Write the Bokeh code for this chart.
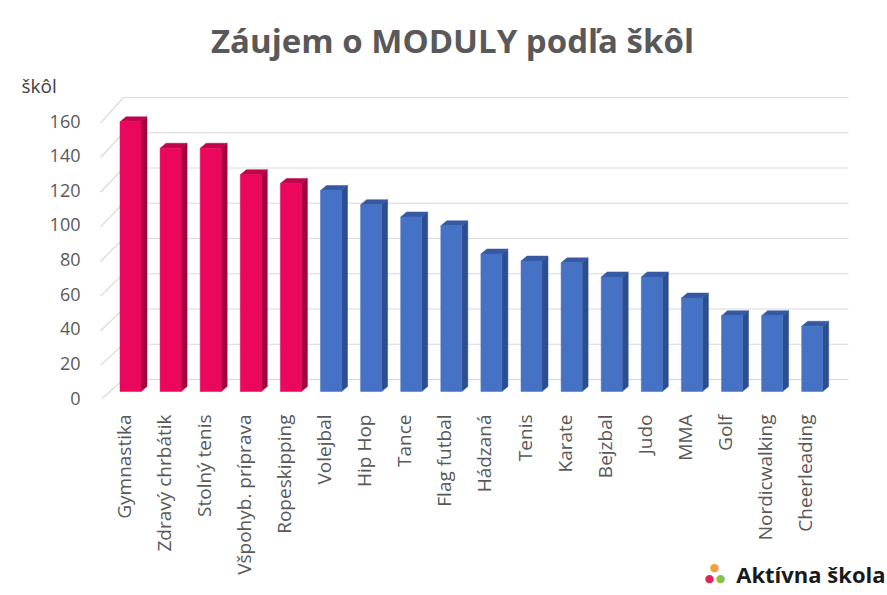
import math
from bokeh.plotting import figure
from bokeh.models import Range1d, LinearAxis, FixedTicker
from bokeh.core.properties import value
from bokeh.embed import file_html
from bokeh.resources import INLINE

# ---------------- data ----------------
categories = ["Gymnastika", "Zdravý chrbátik", "Stolný tenis", "Všpohyb. príprava",
              "Ropeskipping", "Volejbal", "Hip Hop", "Tance", "Flag futbal", "Hádzaná",
              "Tenis", "Karate", "Bejzbal", "Judo", "MMA", "Golf", "Nordicwalking",
              "Cheerleading"]
counts = [153, 138, 138, 123, 118, 114, 106, 99, 94, 78, 74, 73, 65, 65, 53, 43, 43, 37]
groups = ["top"] * 5 + ["other"] * 13
y_ticks = [0, 20, 40, 60, 80, 100, 120, 140, 160]
title_text = "Záujem o MODULY podľa škôl"
y_unit_text = "škôl"
brand_text = "Aktívna škola"
logo_dots = ["●", "●", "●"]

# ---------------- styles / geometry (page pixels) ----------------
W, H = 887, 595
FR_L, FR_R, FR_T, FR_B = 97, 850, 85, 398
BAR0_X, BAR_STEP = 130.0, 40.1
BAR_ZERO_Y, PX_PER_UNIT = 391.0, 1.7625
WALL_SHIFT = 12.0
FRONT_ZERO_Y, FRONT_PX = 397.5, 1.731
LABEL_SHIFT = 7.0

colors = {
    "top": {"front": "#EA075C", "side": "#A3033E", "cap": "#C0044B"},
    "other": {"front": "#4672C6", "side": "#2D4E8E", "cap": "#3559A2"},
}


def xu(px):
    return (px - BAR0_X) / BAR_STEP


def yu(py):
    return (BAR_ZERO_Y - py) / PX_PER_UNIT


p = figure(width=W, height=H, output_backend="svg", toolbar_location=None,
           x_range=Range1d(xu(FR_L), xu(FR_R)), y_range=Range1d(yu(FR_B), yu(FR_T)),
           x_axis_location=None, y_axis_location=None,
           min_border_left=FR_L, min_border_right=W - FR_R,
           min_border_top=FR_T, min_border_bottom=H - FR_B)
for r in list(p.center):
    r.visible = False
p.outline_line_color = None
p.background_fill_color = "white"
p.border_fill_color = "white"

wshift = WALL_SHIFT / PX_PER_UNIT
p.extra_y_ranges = {
    "wall": Range1d(yu(FR_B) - wshift, yu(FR_T) - wshift),
    "front": Range1d((FRONT_ZERO_Y - FR_B) / FRONT_PX, (FRONT_ZERO_Y - FR_T) / FRONT_PX),
}
lshift = LABEL_SHIFT / BAR_STEP
p.extra_x_ranges = {"lab": Range1d(xu(FR_L) + lshift, xu(FR_R) + lshift)}

# back-wall gridlines
n_t = len(y_ticks)
p.segment(x0=[xu(123)] * n_t, y0=y_ticks, x1=[xu(848)] * n_t, y1=y_ticks,
          y_range_name="wall", line_color="#D9D9D9", line_width=1.2)
# side-wall diagonal lines
p.segment(x0=[xu(100)] * n_t,
          y0=[yu(FRONT_ZERO_Y + 2 - t * FRONT_PX) for t in y_ticks],
          x1=[xu(123)] * n_t,
          y1=[t + wshift for t in y_ticks],
          line_color="#D9D9D9", line_width=1.2)

# 3D columns
w = 10.5 / BAR_STEP
dx = 6.0 / BAR_STEP
dy = 5.0 / PX_PER_UNIT
idx = list(range(len(categories)))
front_c = [colors[g]["front"] for g in groups]
side_c = [colors[g]["side"] for g in groups]
cap_c = [colors[g]["cap"] for g in groups]

p.patches(xs=[[i + w, i + w + dx, i + w + dx, i + w] for i in idx],
          ys=[[0, dy, v + dy, v] for v in counts],
          fill_color=side_c, line_color=side_c, line_width=0.5)
p.patches(xs=[[i - w, i - w + dx, i + w + dx, i + w] for i in idx],
          ys=[[v, v + dy, v + dy, v] for v in counts],
          fill_color=cap_c, line_color=cap_c, line_width=0.5)
p.quad(left=[i - w for i in idx], right=[i + w for i in idx], bottom=0, top=counts,
       fill_color=front_c, line_color=front_c, line_width=0.5)

# axes
yax = LinearAxis(y_range_name="front", ticker=FixedTicker(ticks=y_ticks),
                 axis_line_color=None, major_tick_line_color=None,
                 minor_tick_line_color=None, major_tick_in=0, major_tick_out=0,
                 major_label_standoff=FR_L - 80,
                 major_label_text_font="Open Sans", major_label_text_font_size="18px",
                 major_label_text_color="#595959")
p.add_layout(yax, "left")

xax = LinearAxis(x_range_name="lab", ticker=FixedTicker(ticks=idx),
                 major_label_overrides={i: c for i, c in enumerate(categories)},
                 major_label_orientation=math.pi / 2,
                 axis_line_color=None, major_tick_line_color=None,
                 minor_tick_line_color=None, major_tick_in=0, major_tick_out=0,
                 major_label_standoff=16,
                 major_label_text_font="Open Sans", major_label_text_font_size="19px",
                 major_label_text_color="#595959")
p.add_layout(xax, "below")

# texts outside the frame: glyphs on the overlay level are not clipped to the frame
p.text(x=[xu(452)], y=[yu(40)], text=[title_text], text_align="center",
       text_baseline="alphabetic", text_font=value("Open Sans"), text_font_style="bold",
       text_font_size="33px", text_color="#595959", level="overlay")
p.text(x=[xu(21)], y=[yu(85)], text=[y_unit_text], text_align="left",
       text_baseline="alphabetic", text_font=value("Open Sans"),
       text_font_size="19px", text_color="#404040", level="overlay")
p.text(x=[xu(885)], y=[yu(573)], text=[brand_text], text_align="right",
       text_baseline="alphabetic", text_font=value("Open Sans"), text_font_style="bold",
       text_font_size="22px", text_color="#1A1A1A", level="overlay")
p.text(x=[xu(714), xu(709), xu(720)], y=[yu(567), yu(578), yu(578)], text=logo_dots,
       text_align="center", text_baseline="alphabetic", text_font=value("DejaVu Sans"),
       text_font_size="11px", text_color=["#F2A03A", "#E0245E", "#8CC04B"],
       level="overlay")

open("out.html", "w").write(file_html(p, INLINE))
